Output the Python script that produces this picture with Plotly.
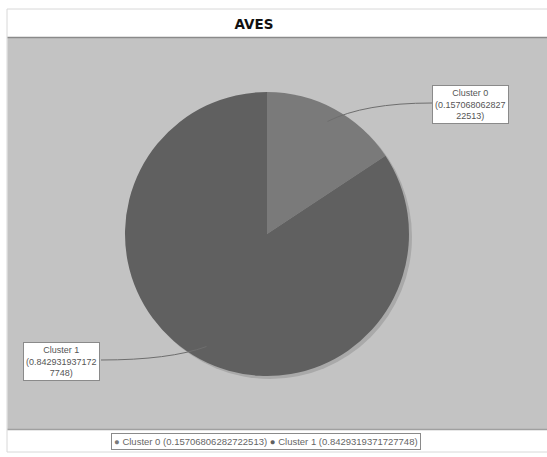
import plotly.graph_objects as go
import math

# ---- data ----
title_text = "AVES"
categories = ["Cluster 0", "Cluster 1"]
values = [0.15706806282722513, 0.8429319371727748]
label_texts = ["Cluster 0<br>(0.157068062827<br>22513)", "Cluster 1<br>(0.842931937172<br>7748)"]
legend_names = ["Cluster 0 (0.15706806282722513)", "Cluster 1 (0.8429319371727748)"]
slice_colors = ["#7a7a7a", "#606060"]

W, H = 547, 457
def px(x):
    return x / W
def py(y):
    return 1 - y / H

# pie geometry (pixels)
cx, cy, r = 267, 234, 142

fig = go.Figure()
fig.add_trace(go.Pie(
    labels=legend_names,
    values=values,
    sort=False,
    direction="clockwise",
    rotation=0,
    textinfo="none",
    marker=dict(colors=slice_colors, line=dict(width=0)),
    domain=dict(x=[px(cx - r), px(cx + r)], y=[py(cy + r), py(cy - r)]),
    showlegend=False,
))

shapes = []
# outer frame
shapes.append(dict(type="rect", xref="paper", yref="paper", x0=px(7), x1=px(560), y0=py(452), y1=py(9),
                   line=dict(color="#d8d8d8", width=1), fillcolor="white", layer="below"))
# plot area
shapes.append(dict(type="rect", xref="paper", yref="paper", x0=px(7.5), x1=px(560), y0=py(429), y1=py(38),
                   line=dict(width=0), fillcolor="#c3c3c3", layer="below"))
shapes.append(dict(type="line", xref="paper", yref="paper", x0=px(7.5), x1=px(560), y0=py(37.5), y1=py(37.5),
                   line=dict(color="#8a8a8a", width=1.5), layer="below"))
shapes.append(dict(type="line", xref="paper", yref="paper", x0=px(7.5), x1=px(560), y0=py(429.5), y1=py(429.5),
                   line=dict(color="#a0a0a0", width=1.5), layer="below"))
# shadow
shapes.append(dict(type="circle", xref="paper", yref="paper", x0=px(cx - r + 3), x1=px(cx + r + 3),
                   y0=py(cy + r + 3), y1=py(cy - r + 3), line=dict(width=0), fillcolor="#a9a9a9", layer="below"))

# label boxes and connectors
box_specs = [
    dict(bx=471, by=105, lx=432, ly=103),
    dict(bx=61, by=361, lx=101, ly=360),
]
annotations = []
cum = 0.0
total = sum(values)
for i, v in enumerate(values):
    mid = (cum + v / 2) / total * 2 * math.pi
    cum += v
    ax = cx + 0.9 * r * math.sin(mid)
    ay = cy - 0.9 * r * math.cos(mid)
    b = box_specs[i]
    ctrl_x = ax + (b["lx"] - ax) * 0.35
    ctrl_y = b["ly"]
    path = "M {} {} Q {} {} {} {}".format(px(ax), py(ay), px(ctrl_x), py(ctrl_y), px(b["lx"]), py(b["ly"]))
    shapes.append(dict(type="path", xref="paper", yref="paper", path=path,
                       line=dict(color="#6e6e6e", width=1)))
    annotations.append(dict(
        x=px(b["bx"]), y=py(b["by"]), xref="paper", yref="paper",
        text=label_texts[i], showarrow=False, align="center",
        font=dict(family="Liberation Sans, Arial, sans-serif", size=9, color="#555555"),
        bgcolor="white", bordercolor="#8a8a8a", borderwidth=1, borderpad=2,
        xanchor="center", yanchor="middle",
    ))

# legend row built from the data
legend_text = " ".join(
    "<span style='color:{}'>●</span> {}".format(slice_colors[i], legend_names[i]) for i in range(len(values))
)
annotations.append(dict(
    x=px(266), y=py(441.5), xref="paper", yref="paper", text=legend_text, showarrow=False,
    font=dict(family="Liberation Sans, Arial, sans-serif", size=9.5, color="#666666"),
    bgcolor="white", bordercolor="#8a8a8a", borderwidth=1, borderpad=2,
    xanchor="center", yanchor="middle",
))

fig.update_layout(
    width=W, height=H,
    margin=dict(l=0, r=0, t=0, b=0),
    paper_bgcolor="white",
    plot_bgcolor="white",
    title=dict(text="<b>" + title_text + "</b>", x=px(254), y=py(24), xanchor="center", yanchor="middle",
               font=dict(family="DejaVu Sans, sans-serif", size=13.5, color="#111111")),
    shapes=shapes,
    annotations=annotations,
    showlegend=False,
)

fig.write_html("out.html", config={"displayModeBar": False},
               post_script="document.body.style.margin='0';")
